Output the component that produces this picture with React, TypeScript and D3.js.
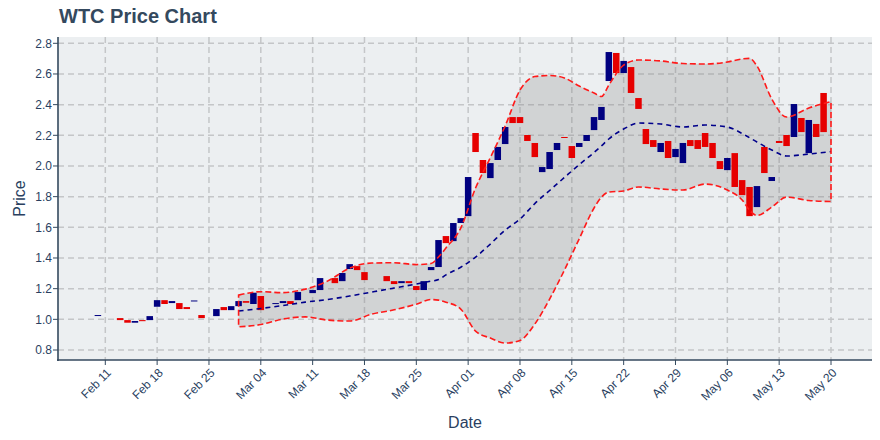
import React from "react";
import * as d3 from "d3";

// daily candles (only bodies are visible in the source chart)
const candleDates = [
  "2018-02-10", "2018-02-13", "2018-02-14", "2018-02-15", "2018-02-16", "2018-02-17", "2018-02-18",
  "2018-02-19", "2018-02-20", "2018-02-21", "2018-02-22", "2018-02-23", "2018-02-24", "2018-02-26",
  "2018-02-27", "2018-02-28", "2018-03-01", "2018-03-02", "2018-03-03", "2018-03-04", "2018-03-06",
  "2018-03-07", "2018-03-08", "2018-03-09", "2018-03-11", "2018-03-12", "2018-03-14", "2018-03-15",
  "2018-03-16", "2018-03-17", "2018-03-18", "2018-03-21", "2018-03-22", "2018-03-23", "2018-03-24",
  "2018-03-25", "2018-03-26", "2018-03-27", "2018-03-28", "2018-03-29", "2018-03-30", "2018-03-31",
  "2018-04-01", "2018-04-02", "2018-04-03", "2018-04-04", "2018-04-05", "2018-04-06", "2018-04-07",
  "2018-04-08", "2018-04-09", "2018-04-10", "2018-04-11", "2018-04-12", "2018-04-13", "2018-04-14",
  "2018-04-15", "2018-04-16", "2018-04-17", "2018-04-18", "2018-04-19", "2018-04-20", "2018-04-21",
  "2018-04-22", "2018-04-23", "2018-04-24", "2018-04-25", "2018-04-26", "2018-04-27", "2018-04-28",
  "2018-04-29", "2018-04-30", "2018-05-01", "2018-05-02", "2018-05-03", "2018-05-04", "2018-05-05",
  "2018-05-06", "2018-05-07", "2018-05-08", "2018-05-09", "2018-05-10", "2018-05-11", "2018-05-12",
  "2018-05-13", "2018-05-14", "2018-05-15", "2018-05-16", "2018-05-17", "2018-05-18", "2018-05-19",
];
const candleOpen = [
  1.023, 1.008, 0.995, 0.978, 0.995, 0.995, 1.082,
  1.125, 1.106, 1.106, 1.08, 1.119, 1.028, 1.021,
  1.08, 1.06, 1.086, 1.119, 1.1, 1.152, 1.1,
  1.106, 1.119, 1.125, 1.171, 1.191, 1.269, 1.249,
  1.328, 1.347, 1.308, 1.282, 1.249, 1.236, 1.249,
  1.217, 1.191, 1.321, 1.341, 1.543, 1.51, 1.628,
  1.673, 2.215, 2.039, 1.921, 2.039, 2.143, 2.319,
  2.319, 2.202, 2.15, 1.96, 1.98, 2.104, 2.189,
  2.13, 2.124, 2.163, 2.234, 2.3, 2.554, 2.737,
  2.606, 2.645, 2.443, 2.241, 2.169, 2.091, 2.163,
  2.058, 2.019, 2.169, 2.169, 2.215, 2.15, 2.032,
  1.973, 2.084, 1.908, 1.863, 1.732, 2.124, 1.902,
  2.163, 2.202, 2.189, 2.313, 2.084, 2.274, 2.476,
];
const candleClose = [
  1.028, 0.995, 0.978, 0.989, 0.988, 1.021, 1.125,
  1.1, 1.119, 1.067, 1.067, 1.123, 1.008, 1.067,
  1.06, 1.086, 1.119, 1.108, 1.173, 1.06, 1.106,
  1.119, 1.1, 1.178, 1.191, 1.269, 1.236, 1.302,
  1.36, 1.321, 1.256, 1.249, 1.23, 1.249, 1.236,
  1.191, 1.249, 1.341, 1.517, 1.497, 1.628, 1.66,
  1.928, 2.091, 1.954, 2.019, 2.124, 2.254, 2.28,
  2.28, 2.163, 2.058, 1.993, 2.091, 2.15, 2.183,
  2.052, 2.15, 2.202, 2.319, 2.385, 2.743, 2.606,
  2.685, 2.476, 2.372, 2.143, 2.124, 2.15, 2.052,
  2.111, 2.15, 2.13, 2.111, 2.124, 2.052, 1.98,
  2.052, 1.863, 1.81, 1.673, 1.869, 1.954, 1.928,
  2.15, 2.13, 2.404, 2.221, 2.3, 2.189, 2.221,
];

// bollinger band
const bandDates = [
  "2018-03-01", "2018-03-04", "2018-03-07", "2018-03-10", "2018-03-13", "2018-03-16", "2018-03-19",
  "2018-03-22", "2018-03-25", "2018-03-27", "2018-03-28", "2018-03-29", "2018-03-31", "2018-04-02",
  "2018-04-04", "2018-04-06", "2018-04-08", "2018-04-10", "2018-04-12", "2018-04-14", "2018-04-16",
  "2018-04-18", "2018-04-19", "2018-04-20", "2018-04-22", "2018-04-24", "2018-04-27", "2018-04-30",
  "2018-05-03", "2018-05-06", "2018-05-08", "2018-05-09", "2018-05-10", "2018-05-12", "2018-05-14",
  "2018-05-17", "2018-05-20",
];
const bandUpper = [
  1.158, 1.18, 1.174, 1.197, 1.249, 1.334, 1.367,
  1.369, 1.357, 1.364, 1.406, 1.465, 1.595, 1.856,
  2.055, 2.261, 2.495, 2.583, 2.59, 2.574, 2.521,
  2.476, 2.453, 2.528, 2.658, 2.691, 2.685, 2.668,
  2.665, 2.678, 2.698, 2.702, 2.652, 2.437, 2.319,
  2.378, 2.42,
];
const bandMid = [
  1.054, 1.071, 1.09, 1.112, 1.129, 1.152, 1.178,
  1.204, 1.23, 1.249, 1.259, 1.29, 1.34, 1.406,
  1.491, 1.582, 1.654, 1.755, 1.84, 1.925, 2.009,
  2.088, 2.131, 2.176, 2.241, 2.28, 2.274, 2.254,
  2.267, 2.254, 2.212, 2.184, 2.156, 2.104, 2.065,
  2.078, 2.094,
];
const bandLower = [
  0.951, 0.966, 1.002, 1.016, 0.995, 0.989, 1.034,
  1.062, 1.099, 1.129, 1.125, 1.112, 1.067, 0.923,
  0.878, 0.845, 0.862, 0.969, 1.132, 1.321, 1.525,
  1.726, 1.797, 1.83, 1.837, 1.863, 1.85, 1.843,
  1.882, 1.843, 1.778, 1.712, 1.677, 1.732, 1.797,
  1.775, 1.768,
];

const xTickDates = [
  "2018-02-11", "2018-02-18", "2018-02-25", "2018-03-04", "2018-03-11", "2018-03-18", "2018-03-25",
  "2018-04-01", "2018-04-08", "2018-04-15", "2018-04-22", "2018-04-29", "2018-05-06", "2018-05-13",
  "2018-05-20",
];
const yTicks = [0.8, 1.0, 1.2, 1.4, 1.6, 1.8, 2.0, 2.2, 2.4, 2.6, 2.8];

const parse = (s: string) => new Date(s + "T00:00:00Z");
const fmt = d3.utcFormat("%b %d");

export default function App() {
  const W = 880, H = 440;
  const plot = { left: 58, right: 872, top: 37, bottom: 360 };

  const x = d3.scaleUtc()
    .domain([parse(xTickDates[0]), parse(xTickDates[xTickDates.length - 1])])
    .range([105.3, 831]);
  const y = d3.scaleLinear().domain([0.8, 2.8]).range([350, 43.3]);

  const dayW = x(parse("2018-02-12")) - x(parse("2018-02-11"));
  const bodyW = dayW * 0.88;

  const candles = candleDates.map((d, i) => ({ date: parse(d), open: candleOpen[i], close: candleClose[i] }));
  const band = bandDates.map((d, i) => ({ date: parse(d), upper: bandUpper[i], mid: bandMid[i], lower: bandLower[i] }));

  const bandArea = d3.area<any>()
    .x(d => x(d.date))
    .y0(d => y(d.lower))
    .y1(d => y(d.upper))
    .curve(d3.curveMonotoneX);
  const midLine = d3.line<any>()
    .x(d => x(d.date))
    .y(d => y(d.mid))
    .curve(d3.curveMonotoneX);

  const areaPath = bandArea(band) + "Z";
  const textColor = "#2a3f5f";
  const font = "'Liberation Sans', Arial, sans-serif";

  return (
    <div style={{ position: "absolute", left: 0, top: 0, background: "#fff" }}>
      <svg width={W} height={H} style={{ display: "block", fontFamily: font }}>
        <defs>
          <clipPath id="plotClip">
            <rect x={plot.left} y={plot.top} width={plot.right - plot.left} height={plot.bottom - plot.top} />
          </clipPath>
        </defs>
        <rect x={0} y={0} width={W} height={H} fill="#fff" />
        <rect x={plot.left} y={plot.top} width={plot.right - plot.left} height={plot.bottom - plot.top} fill="#eceff1" />

        {/* grid */}
        <g stroke="#c4c6c8" strokeWidth={1.5} strokeDasharray="6,4">
          {yTicks.map(t => (
            <line key={"gy" + t} x1={plot.left} x2={plot.right} y1={y(t)} y2={y(t)} />
          ))}
          {xTickDates.map(t => (
            <line key={"gx" + t} x1={x(parse(t))} x2={x(parse(t))} y1={plot.top} y2={plot.bottom} />
          ))}
        </g>

        <g clipPath="url(#plotClip)">
          <path d={areaPath} fill="rgba(128,128,128,0.25)" stroke="none" />
          {candles.map((c, i) => {
            const up = c.close >= c.open;
            const top = y(Math.max(c.open, c.close));
            const h = Math.max(1, Math.abs(y(c.open) - y(c.close)));
            return (
              <rect key={i} x={x(c.date) - bodyW / 2} y={top} width={bodyW} height={h}
                fill={up ? "#000080" : "#e60000"} />
            );
          })}
          <path d={midLine(band) || ""} fill="none" stroke="#00008b" strokeWidth={1.6} strokeDasharray="5,4" />
          <path d={areaPath} fill="none" stroke="#ff1a1a" strokeWidth={1.6} strokeDasharray="6,3" />
        </g>

        {/* axes */}
        <line x1={plot.left} x2={plot.left} y1={plot.top} y2={plot.bottom + 1} stroke="#34495e" strokeWidth={1.6} />
        <line x1={plot.left - 1} x2={plot.right} y1={plot.bottom} y2={plot.bottom} stroke="#34495e" strokeWidth={1.6} />
        {yTicks.map(t => (
          <g key={"yt" + t}>
            <line x1={plot.left - 5} x2={plot.left} y1={y(t)} y2={y(t)} stroke="#34495e" strokeWidth={1} />
            <text x={plot.left - 6} y={y(t)} dy="0.35em" textAnchor="end" fontSize={12} fill={textColor}>
              {t.toFixed(1)}
            </text>
          </g>
        ))}
        {xTickDates.map(t => {
          const px = x(parse(t));
          return (
            <g key={"xt" + t}>
              <line x1={px} x2={px} y1={plot.bottom} y2={plot.bottom + 5} stroke="#34495e" strokeWidth={1} />
              <text transform={`translate(${px + 6.5},${plot.bottom + 13.5}) rotate(-45)`} textAnchor="end"
                fontSize={12} fill={textColor}>
                {fmt(parse(t))}
              </text>
            </g>
          );
        })}

        <text x={(plot.left + plot.right) / 2} y={428} textAnchor="middle" fontSize={16} fill={textColor}>Date</text>
        <text transform={`translate(25,${(plot.top + plot.bottom) / 2}) rotate(-90)`} textAnchor="middle"
          fontSize={16} fill={textColor}>Price</text>
        <text x={59} y={23} fontSize={20} fontWeight="bold" fill="#34495e">WTC Price Chart</text>
      </svg>
    </div>
  );
}
